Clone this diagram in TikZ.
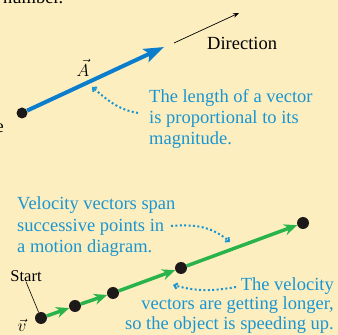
\documentclass[tikz,border=0pt]{standalone}
\usepackage{fontspec}
\setmainfont{Liberation Serif}
\usetikzlibrary{arrows.meta}
\definecolor{bgyellow}{RGB}{253,238,192}
\definecolor{notecyan}{RGB}{25,150,210}
\definecolor{vecblue}{RGB}{10,125,205}
\definecolor{velgreen}{RGB}{40,180,75}
\definecolor{dotblack}{RGB}{30,25,25}
\tikzset{
  pt/.style={circle, fill=dotblack, inner sep=0pt, minimum size=12pt},
  note/.style={text=notecyan, inner sep=0pt},
  lbl/.style={text=black, inner sep=0pt},
  hint/.style={notecyan, line width=2pt, dash pattern=on 2pt off 2.4pt,
    -{Straight Barb[angle=90:4pt]}},
  velarr/.style={velgreen, line width=3.5pt, -{Stealth[length=13pt,width=11pt]}},
}
\begin{document}
\begin{tikzpicture}[x=1pt,y=1pt,font=\fontsize{18.5}{21}\selectfont]
\fill[bgyellow] (0,0) rectangle (338,335);
\clip (0,0) rectangle (338,335);
% cut-off text of the page around the figure
\node[lbl, anchor=base west] (topword) at (3,331) {number.};
\node[lbl, anchor=base west] (leftword) at (-4.5,202) {e};

% vector A
\node[pt, minimum size=11pt] (tail) at (22,222) {};
\coordinate (head) at (164,288);
\draw[vecblue, line width=4pt, -{Stealth[length=20pt,width=14pt,inset=4pt]}] (tail) -- (head);
\node[lbl] (vecA) at (83,267) {$\vec{A}$};
\coordinate (dirfrom) at (174,292);
\coordinate (dirto) at (239,322);
\draw[line width=0.7pt, -{Stealth[length=6pt,width=4.5pt]}] (dirfrom) -- (dirto);
\node[lbl, anchor=base west] (dirtext) at (207,285) {Direction};
% base = last line
\node[note, anchor=base west, align=left] (lengthnote) at (149,190)
  {The length of a vector\\is proportional to its\\magnitude.};
\coordinate (lenfrom) at (138,222);
\coordinate (lento) at (92,248);
\draw[hint] (lenfrom) to[out=170, in=-40] (lento);

% motion diagram
\node[pt] (p1) at (41,17) {};
\node[pt] (p2) at (75,29) {};
\node[pt] (p3) at (113,42) {};
\node[pt] (p4) at (181,67) {};
\node[pt] (p5) at (303,112) {};
\foreach \a/\b in {p1/p2, p2/p3, p3/p4, p4/p5}
  \draw[velarr] (\a) -- (\b);
\node[lbl, font=\fontsize{16.5}{19}\selectfont] (start) at (26,59) {Start};
\draw[line width=0.6pt] (start.south) -- (p1);
\node[lbl] (vecv) at (22,10) {$\vec{v}$};

\node[note, anchor=base west, align=left, font=\fontsize{18.5}{21.5}\selectfont] (spannote) at (17,82)
  {Velocity vectors span\\successive points in\\a motion diagram.};
\coordinate (spanfrom) at (171,109);
\coordinate (spanto) at (230,93);
\draw[hint] (spanfrom) to[out=5, in=140] (spanto);

\node[note, anchor=base east, align=right, font=\fontsize{18.5}{20}\selectfont] (speednote) at (334,5)
  {The velocity\\vectors are getting longer,\\so the object is speeding up.};
\coordinate (speedfrom) at (236,48);
\coordinate (speedto) at (173,50);
\draw[hint] (speedfrom) to[out=190, in=-15] (speedto);
\end{tikzpicture}
\end{document}
